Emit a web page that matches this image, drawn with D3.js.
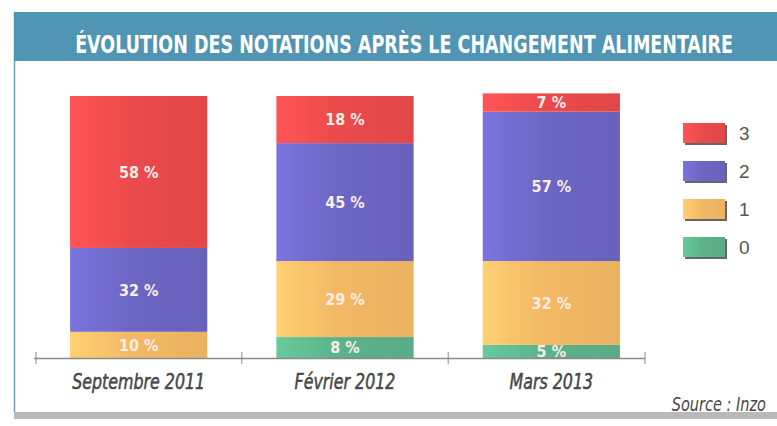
<!DOCTYPE html>
<html lang="fr">
  <head>
    <meta charset="utf-8">
    <script src="https://d3js.org/d3.v7.min.js"></script>
    <style>
    body { margin: 0; background: #fff; }
    .title { font-family: "DejaVu Sans Condensed", "DejaVu Sans", sans-serif; font-weight: bold; fill: #fff; }
    .cat { font-family: "DejaVu Sans Condensed", "DejaVu Sans", sans-serif; font-style: italic; fill: #474747; }
    .val { font-family: "DejaVu Sans Condensed", sans-serif; font-weight: bold; fill: #fbeee8; }
    .leg { font-family: "Liberation Sans", sans-serif; fill: #555; }
    </style>
    <title>Évolution des notations</title>
  </head>
  <body>
    <script>
    // Data
    var periods = ['Septembre 2011', 'Février 2012', 'Mars 2013'];
    var grades = ['0', '1', '2', '3'];
    var note0 = [0, 8, 5];
    var note1 = [10, 29, 32];
    var note2 = [32, 45, 57];
    var note3 = [58, 18, 7];
    var colors = ['#5cb28a', '#f2b865', '#6c66c4', '#ea4a4b'];
    var title = 'ÉVOLUTION DES NOTATIONS APRÈS LE CHANGEMENT ALIMENTAIRE';
    var source = 'Source : Inzo';

    var w = 777, h = 426;
    var svg = d3.select('body').append('svg')
        .attr('width', w)
        .attr('height', h);

    var defs = svg.append('defs');
    colors.forEach(function(c, i) {
      var g = defs.append('linearGradient').attr('id', 'grad' + i);
      g.append('stop').attr('offset', '0%').attr('stop-color', d3.color(c).brighter(0.35));
      g.append('stop').attr('offset', '45%').attr('stop-color', c);
      g.append('stop').attr('offset', '100%').attr('stop-color', d3.color(c).darker(0.1));
    });

    // card frame
    svg.append('rect').attr('x', 14).attr('y', 412).attr('width', w - 14).attr('height', 7)
        .attr('fill', '#b9b9b9');
    svg.append('rect').attr('x', 14).attr('y', 12).attr('width', w - 14).attr('height', 400)
        .attr('fill', '#fff');
    svg.append('line').attr('x1', 14.5).attr('x2', 14.5).attr('y1', 12).attr('y2', 412)
        .attr('stroke', '#6b9fb6').attr('stroke-width', 1.5);

    // title band
    svg.append('rect').attr('x', 14).attr('y', 12).attr('width', w - 14).attr('height', 49)
        .attr('fill', '#5095b3');
    var titleText = svg.append('text').attr('class', 'title')
        .attr('text-anchor', 'middle')
        .attr('font-size', 24)
        .text(title);
    // squeeze to the width of the printed title
    var tl = titleText.node().getComputedTextLength();
    titleText.attr('transform', 'translate(404,53) scale(' + Math.min(1, 658 / tl) + ',1)');

    // scales
    var x = d3.scaleBand().domain(periods).range([36, 654])
        .paddingInner(0.335).paddingOuter(0.165);
    var y = d3.scaleLinear().domain([0, 100]).range([358, 96]);

    var table = periods.map(function(p, i) {
      return { period: p, '0': note0[i], '1': note1[i], '2': note2[i], '3': note3[i] };
    });
    var series = d3.stack().keys(grades)(table);

    var layer = svg.append('g').selectAll('g')
        .data(series)
        .enter().append('g')
        .attr('fill', function(d, i) { return 'url(#grad' + i + ')'; });

    layer.selectAll('rect')
        .data(function(d) { return d; })
        .enter().append('rect')
        .attr('x', function(d) { return x(d.data.period); })
        .attr('y', function(d) { return y(d[1]); })
        .attr('width', x.bandwidth())
        .attr('height', function(d) { return y(d[0]) - y(d[1]); });

    // values
    layer.selectAll('text')
        .data(function(d) { return d.filter(function(e) { return e[1] - e[0] > 0; }); })
        .enter().append('text')
        .attr('class', 'val')
        .attr('x', function(d) { return x(d.data.period) + x.bandwidth() / 2; })
        .attr('y', function(d) { return (y(d[0]) + y(d[1])) / 2; })
        .attr('dy', '0.36em')
        .attr('text-anchor', 'middle')
        .attr('font-size', 16)
        .text(function(d) { return (d[1] - d[0]) + ' %'; });

    // axis
    var step = x.step();
    var ticks = [36, x(periods[0]) + x.bandwidth() + (step - x.bandwidth()) / 2,
                 x(periods[1]) + x.bandwidth() + (step - x.bandwidth()) / 2, 645];
    var axis = svg.append('g');
    axis.append('line').attr('x1', 34).attr('x2', 645).attr('y1', 358.5).attr('y2', 358.5)
        .attr('stroke', '#8a8a8a').attr('stroke-width', 1.5);
    axis.selectAll('.tick').data(ticks).enter().append('line')
        .attr('x1', function(d) { return d; }).attr('x2', function(d) { return d; })
        .attr('y1', 352).attr('y2', 364)
        .attr('stroke', '#8a8a8a');

    // category labels, squeezed to a narrow face
    svg.append('g').selectAll('text')
        .data(periods)
        .enter().append('text')
        .attr('class', 'cat')
        .attr('transform', function(d) {
          return 'translate(' + (x(d) + x.bandwidth() / 2) + ',389) scale(0.84,1)';
        })
        .attr('text-anchor', 'middle')
        .attr('font-size', 21)
        .attr('stroke', '#474747')
        .attr('stroke-width', 0.5)
        .text(function(d) { return d; });

    svg.append('text').attr('class', 'cat')
        .attr('transform', 'translate(766,411) scale(0.85,1)')
        .attr('text-anchor', 'end')
        .attr('font-size', 19)
        .attr('font-style', 'normal')
        .text(source);

    // legend
    var legendY = d3.scalePoint().domain(grades.slice().reverse()).range([133, 247]);
    var leg = svg.append('g').selectAll('g')
        .data(grades)
        .enter().append('g')
        .attr('transform', function(d) { return 'translate(683,' + (legendY(d) - 10) + ')'; });
    leg.append('rect').attr('x', 2).attr('y', 2).attr('width', 42).attr('height', 20)
        .attr('fill', '#666');
    leg.append('rect').attr('width', 42).attr('height', 20)
        .attr('fill', function(d, i) { return 'url(#grad' + i + ')'; });
    leg.append('text').attr('class', 'leg')
        .attr('x', 56).attr('y', 10).attr('dy', '0.36em')
        .attr('font-size', 19)
        .text(function(d) { return d; });
    </script>
  </body>
</html>
